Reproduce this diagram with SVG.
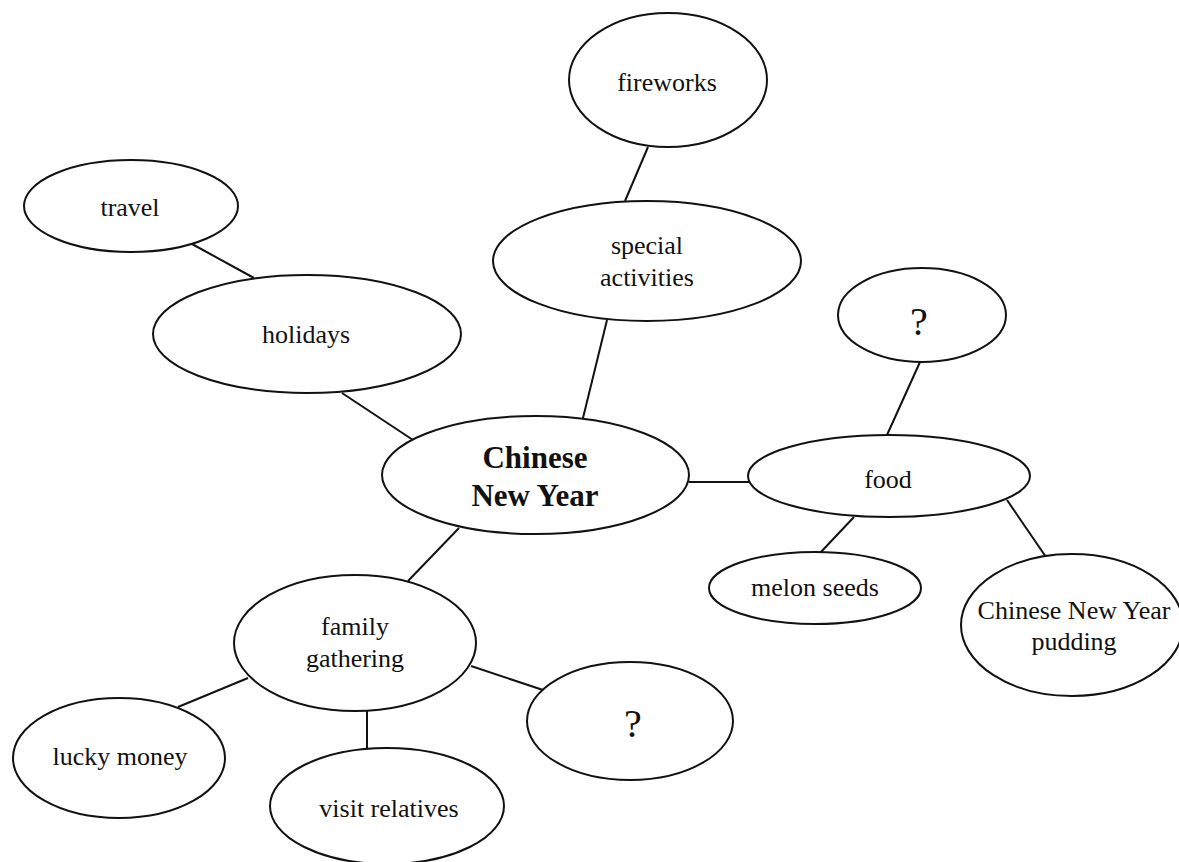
<svg xmlns="http://www.w3.org/2000/svg" width="1179" height="862" viewBox="0 0 1179 862">
<style>
.n ellipse{fill:#fff;stroke:#111;stroke-width:2}
.n text{font-family:"Liberation Serif","Times New Roman",serif;font-size:26px;fill:#111;text-anchor:middle}
.n text.b{font-weight:bold;font-size:31px}
.n text.q{font-size:40px}
#edges line{stroke:#111;stroke-width:2}
</style>
<rect width="1179" height="862" fill="#fff"/>
<g id="edges">
<line x1="648" y1="147" x2="625" y2="201"/>
<line x1="192" y1="244" x2="254" y2="278"/>
<line x1="342" y1="393" x2="413" y2="440"/>
<line x1="607" y1="320" x2="583" y2="418"/>
<line x1="920" y1="362" x2="887" y2="435"/>
<line x1="689" y1="482" x2="749" y2="482"/>
<line x1="854" y1="517" x2="820" y2="553"/>
<line x1="1007" y1="500" x2="1046" y2="557"/>
<line x1="459" y1="528" x2="408" y2="581"/>
<line x1="471" y1="666" x2="543" y2="690"/>
<line x1="248" y1="678" x2="178" y2="707"/>
<line x1="367" y1="710" x2="367" y2="748"/>
</g>
<g id="fireworks" class="n"><ellipse cx="668" cy="80" rx="99" ry="67"/><text x="667" y="91">fireworks</text></g>
<g id="travel" class="n"><ellipse cx="131" cy="206" rx="107" ry="46"/><text x="130" y="216">travel</text></g>
<g id="special" class="n"><ellipse cx="647" cy="261" rx="154" ry="60"/><text x="647" y="254">special</text><text x="647" y="286">activities</text></g>
<g id="holidays" class="n"><ellipse cx="307" cy="334" rx="154" ry="59"/><text x="306" y="343">holidays</text></g>
<g id="q1" class="n"><ellipse cx="922" cy="315" rx="84" ry="47"/><text class="q" x="919" y="335">?</text></g>
<g id="cny" class="n"><ellipse cx="535.5" cy="475" rx="153.5" ry="59"/><text class="b" x="535" y="468">Chinese</text><text class="b" x="535" y="506">New Year</text></g>
<g id="food" class="n"><ellipse cx="889" cy="476" rx="141" ry="41"/><text x="888" y="488">food</text></g>
<g id="melon" class="n"><ellipse cx="815" cy="588" rx="106" ry="36"/><text x="815" y="596">melon seeds</text></g>
<g id="pudding" class="n"><ellipse cx="1072" cy="625" rx="111" ry="71"/><text x="1074" y="619">Chinese New Year</text><text x="1074" y="650">pudding</text></g>
<g id="family" class="n"><ellipse cx="355" cy="643" rx="121" ry="68"/><text x="355" y="635">family</text><text x="355" y="667">gathering</text></g>
<g id="q2" class="n"><ellipse cx="630" cy="721" rx="103" ry="59"/><text class="q" x="633" y="737">?</text></g>
<g id="lucky" class="n"><ellipse cx="119" cy="758" rx="106" ry="60"/><text x="120" y="765">lucky money</text></g>
<g id="visit" class="n"><ellipse cx="387" cy="806" rx="117" ry="58"/><text x="389" y="817">visit relatives</text></g>
</svg>
